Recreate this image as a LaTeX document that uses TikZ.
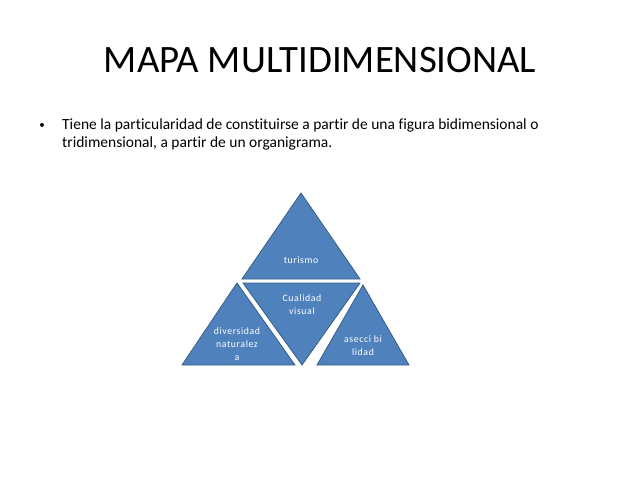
\documentclass[tikz,border=0pt]{standalone}
\usepackage{fontspec}
\setmainfont[RawFeature=-liga]{Carlito}
\newfontfamily\trifont[RawFeature=-liga,LetterSpace=6]{Carlito}
\definecolor{triFill}{HTML}{4F81BD}
\definecolor{triEdge}{HTML}{385D8A}
\begin{document}
\begin{tikzpicture}[x=1pt,y=-1pt,
  tri/.style={fill=triFill,draw=triEdge,line width=0.8pt,line join=miter},
  tlabel/.style={text=white,font=\trifont\fontsize{9.8}{13}\selectfont,align=center,inner sep=0pt},
  title/.style={font=\fontsize{38.8}{44}\selectfont,inner sep=0pt,anchor=base},
  body/.style={font=\fontsize{15.5}{18.6}\selectfont,inner sep=0pt,align=left,anchor=base west}]
\useasboundingbox[fill=white] (0,0) rectangle (638,479);
\node[title] (ttl) at (320,72) {MAPA MULTIDIMENSIONAL};
\node[font=\fontsize{11}{13}\selectfont,inner sep=0pt] (bul) at (42,125.5) {•};
\node[body] (txt) at (62,129.3) {Tiene la particularidad de constituirse a partir de una figura bidimensional o};
\node[body] (txt2) at (62,147.8) {tridimensional, a partir de un organigrama.};
% triangles
\draw[tri] (301,193) -- (242,279) -- (360,279) -- cycle;
\draw[tri] (243,283) -- (360,283) -- (302,365) -- cycle;
\draw[tri] (237,283) -- (182,365) -- (295,365) -- cycle;
\draw[tri] (363,285) -- (317,365) -- (409,365) -- cycle;
\node[tlabel] (tur) at (301,260) {turismo};
\node[tlabel] (cua) at (302,305) {Cualidad\\visual};
\node[tlabel] (div) at (237,344) {diversidad\\naturalez\\a};
\node[tlabel] (ase) at (363,346) {asecci bi\\lidad};
\end{tikzpicture}
\end{document}
